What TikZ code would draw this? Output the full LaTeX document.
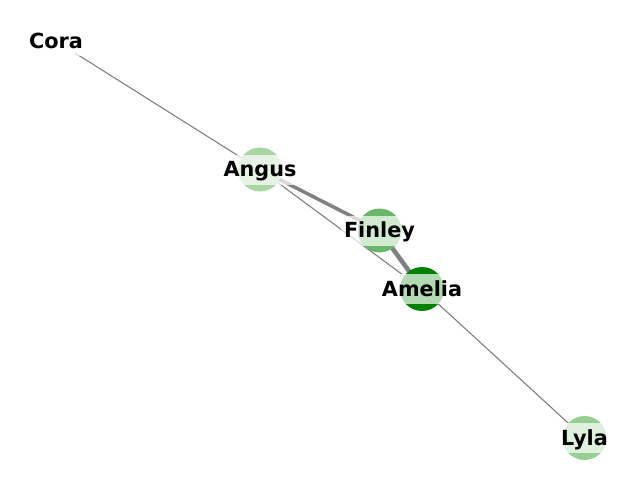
\documentclass[tikz,border=0pt]{standalone}
\usepackage{fontspec}
\setmainfont{DejaVu Sans}
\definecolor{edgegray}{RGB}{128,128,128}
\definecolor{cAngus}{RGB}{170,213,165}
\definecolor{cFinley}{RGB}{106,182,106}
\definecolor{cAmelia}{RGB}{0,128,0}
\definecolor{cLyla}{RGB}{150,206,148}
\definecolor{cCora}{RGB}{255,255,255}
\begin{document}
\begin{tikzpicture}[x=1pt,y=-1pt,
  vert/.style={circle,minimum size=44pt,inner sep=0pt,draw=none},
  lab/.style={fill=white,fill opacity=0.7,text opacity=1,inner xsep=3pt,inner ysep=4.5pt,
    text height=17.5pt,text depth=3.5pt,font=\fontsize{20.8}{25}\selectfont\bfseries},
  thin edge/.style={draw=edgegray,line width=1.1pt},
  thick edge/.style={draw=edgegray,line width=4pt}]
\useasboundingbox (0,0) rectangle (640,480);
\coordinate (Cora) at (56,41);
\coordinate (Angus) at (260,169.5);
\coordinate (Finley) at (379.5,230.5);
\coordinate (Amelia) at (422,289);
\coordinate (Lyla) at (584.5,438);
% edges
\draw[thin edge] (Cora) -- (Angus);
\draw[thin edge] (Angus) -- (Amelia);
\draw[thick edge,line width=3.5pt] (Angus) -- (Finley);
\draw[thick edge,line width=4.5pt] (Finley) -- (Amelia);
\draw[thin edge] (Amelia) -- (Lyla);
% nodes
\node[vert,fill=cCora] (nCora) at (Cora) {};
\node[vert,fill=cAngus] (nAngus) at (Angus) {};
\node[vert,fill=cFinley] (nFinley) at (Finley) {};
\node[vert,fill=cAmelia] (nAmelia) at (Amelia) {};
\node[vert,fill=cLyla] (nLyla) at (Lyla) {};
% labels
\node[lab] (lCora) at (Cora) {Cora};
\node[lab] (lAngus) at (Angus) {Angus};
\node[lab] (lFinley) at (Finley) {Finley};
\node[lab] (lAmelia) at (Amelia) {Amelia};
\node[lab] (lLyla) at (Lyla) {Lyla};
\end{tikzpicture}
\end{document}
